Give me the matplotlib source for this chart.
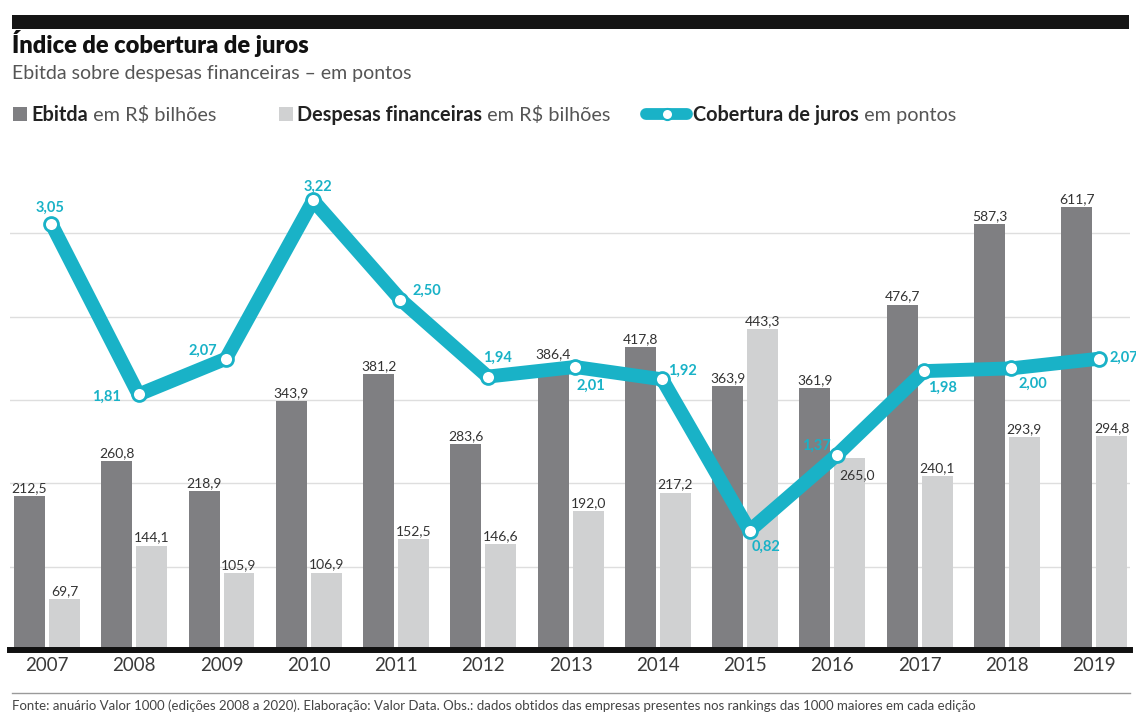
import matplotlib
matplotlib.use("Agg")
import matplotlib.pyplot as plt
from matplotlib.patches import Rectangle
from matplotlib.lines import Line2D
import numpy as np

# dados
years = ["2007", "2008", "2009", "2010", "2011", "2012", "2013",
         "2014", "2015", "2016", "2017", "2018", "2019"]
ebitda = [212.5, 260.8, 218.9, 343.9, 381.2, 283.6, 386.4,
          417.8, 363.9, 361.9, 476.7, 587.3, 611.7]
despesas = [69.7, 144.1, 105.9, 106.9, 152.5, 146.6, 192.0,
            217.2, 443.3, 265.0, 240.1, 293.9, 294.8]
cobertura = [3.05, 1.81, 2.07, 3.22, 2.50, 1.94, 2.01,
             1.92, 0.82, 1.37, 1.98, 2.00, 2.07]

W, H = 1136, 715
DARK = "#7f7f82"
LIGHT = "#d0d1d2"
CYAN = "#19b2c7"
FONT = ["Lato", "DejaVu Sans"]

plt.rcParams["font.family"] = FONT


def fx(px):
    return px / W


def fy(py):
    return 1 - py / H


def br(v, nd):
    return f"{v:.{nd}f}".replace(".", ",")


fig = plt.figure(figsize=(W / 100, H / 100), dpi=100)
ax = fig.add_axes([fx(10), fy(650), fx(1130) - fx(10), fy(150) - fy(650)])
ax2 = ax.twinx()

x = np.arange(len(years))
bw = 0.355
ax.bar(x - 0.2, ebitda, bw, color=DARK, zorder=2)
ax.bar(x + 0.2, despesas, bw, color=LIGHT, zorder=2)

ax.set_xlim(-0.424, 12.41)
ax.set_ylim(0, 690)
ax.set_yticks(np.arange(115, 690, 115))
ax.yaxis.grid(True, color="#dedede", lw=1, zorder=0)
ax.set_axisbelow(True)
ax.tick_params(axis="y", length=0, labelleft=False)
ax.set_xticks(x)
ax.set_xticklabels(years, fontsize=13.5, color="#3a3a3a")
ax.tick_params(axis="x", length=0, pad=5)
for s in ax.spines.values():
    s.set_visible(False)
for s in ax2.spines.values():
    s.set_visible(False)
ax.axhline(0, color="#111111", lw=4.3, zorder=5, clip_on=False)

# linha de cobertura
ax2.set_ylim(-0.047, 3.587)
ax2.set_yticks([])
ax2.plot(x + 0.05, cobertura, color=CYAN, lw=10, solid_joinstyle="round",
         solid_capstyle="round", marker="o", ms=10, mfc="white", mec=CYAN,
         mew=2, zorder=3)

# rótulos das barras (na ax2 para ficarem acima da linha)
for i in range(len(years)):
    dy = 10 if years[i] == "2013" else 2
    ax2.annotate(br(ebitda[i], 1), (x[i] - 0.2, ebitda[i]), xycoords=ax.transData,
                 xytext=(0, dy), textcoords="offset pixels", ha="center",
                 va="bottom", fontsize=10, color="#333333", zorder=6)
    dx, dy = (7, -23) if years[i] == "2016" else (0, 2)
    ax2.annotate(br(despesas[i], 1), (x[i] + 0.2, despesas[i]),
                 xycoords=ax.transData, xytext=(dx, dy),
                 textcoords="offset pixels", ha="center", va="bottom",
                 fontsize=10, color="#333333", zorder=6, annotation_clip=False)

offs = [(-1, 16), (-32, -2), (-23, 8), (5, 14), (26, 9), (10, 19), (16, -19),
        (20, 9), (16, -16), (-20, 9), (18, -17), (22, -15), (26, 1)]
for i, v in enumerate(cobertura):
    ha = "left" if i == len(cobertura) - 1 else "center"
    dx, dy = offs[i]
    if ha == "left":
        dx -= 15
    ax2.annotate(br(v, 2), (x[i] + 0.05, v), xytext=(dx, dy),
                 textcoords="offset pixels", ha=ha, va="center",
                 fontsize=10.5, fontweight="bold", color=CYAN, zorder=7,
                 annotation_clip=False)

# cabeçalho
fig.add_artist(Rectangle((fx(12), fy(29)), fx(1129) - fx(12), fy(15) - fy(29),
                         transform=fig.transFigure, color="#151515", lw=0))
fig.text(fx(12), fy(53), "Índice de cobertura de juros", fontsize=17,
         fontweight="heavy", color="#111111", va="baseline")
fig.text(fx(12), fy(79), "Ebitda sobre despesas financeiras – em pontos",
         fontsize=14, color="#555555", va="baseline")

renderer = fig.canvas.get_renderer()


def rich(px, py, parts):
    xx = fx(px)
    for s, wt in parts:
        t = fig.text(xx, fy(py), s, fontsize=14.3, fontweight=wt,
                     color="#222222" if wt == "bold" else "#555555",
                     va="baseline")
        xx += t.get_window_extent(renderer).width / W


fig.add_artist(Rectangle((fx(13), fy(121)), fx(14), fx(14) * W / H,
                         transform=fig.transFigure, color=DARK, lw=0))
rich(31, 121, [("Ebitda", "bold"), (" em R$ bilhões", "normal")])
fig.add_artist(Rectangle((fx(279), fy(121)), fx(14), fx(14) * W / H,
                         transform=fig.transFigure, color=LIGHT, lw=0))
rich(297, 121, [("Despesas financeiras", "bold"), (" em R$ bilhões", "normal")])
fig.add_artist(Line2D([fx(646), fx(687)], [fy(114), fy(114)],
                      transform=fig.transFigure, color=CYAN, lw=8.5,
                      solid_capstyle="round"))
fig.add_artist(Line2D([fx(667)], [fy(114)], transform=fig.transFigure,
                      marker="o", ms=8, mfc="white", mec=CYAN, mew=1.5))
rich(693, 121, [("Cobertura de juros", "bold"), (" em pontos", "normal")])

# rodapé
fig.add_artist(Line2D([fx(12), fx(1130)], [fy(693), fy(693)],
                      transform=fig.transFigure, color="#9a9a9a", lw=1))
fig.text(fx(12), fy(706), "Fonte: anuário Valor 1000 (edições 2008 a 2020). "
         "Elaboração: Valor Data. Obs.: dados obtidos das empresas presentes nos "
         "rankings das 1000 maiores em cada edição", fontsize=9.5,
         color="#444444", va="center")

fig.savefig("out.png", dpi=100)
